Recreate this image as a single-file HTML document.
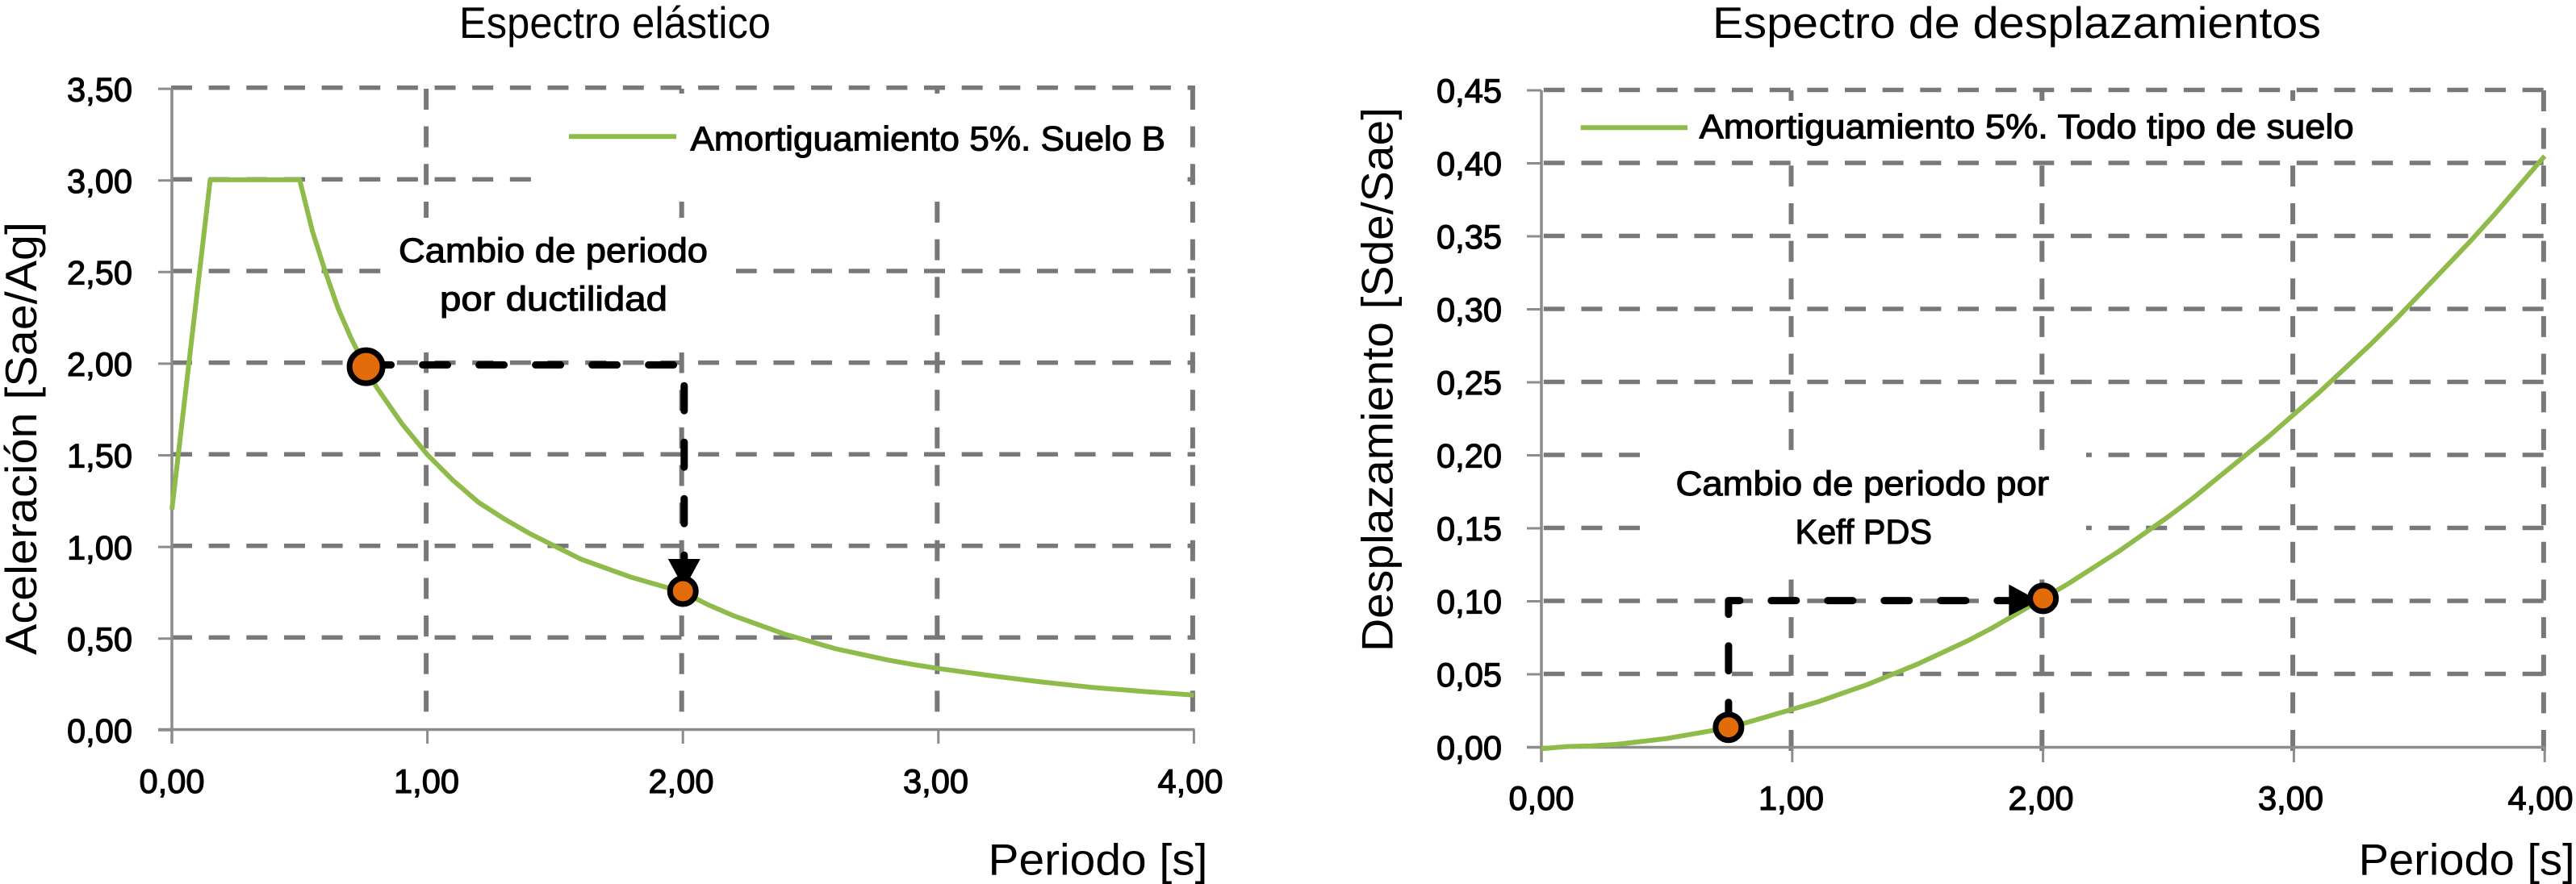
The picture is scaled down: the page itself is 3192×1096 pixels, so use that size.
<!DOCTYPE html>
<html lang="es">
<head>
<meta charset="utf-8">
<title>Espectro elástico y espectro de desplazamientos</title>
<style>
html,body{margin:0;padding:0;background:#fff;width:3192px;height:1096px;overflow:hidden}
svg{display:block}
text{font-family:"Liberation Sans",sans-serif;fill:#000}
.tick{font-size:42px;stroke:#000;stroke-width:1.2px}
.note{font-size:43px;stroke:#000;stroke-width:1.1px}
.big{font-size:55px}
</style>
</head>
<body>
<svg id="figure" xmlns="http://www.w3.org/2000/svg" width="3192" height="1096" viewBox="0 0 3192 1096">
  <rect x="0" y="0" width="3192" height="1096" fill="#fff"/>
  <g id="left-chart"></g>
  <g id="right-chart"></g>
</svg>
<script>
// ---- Shared axis data ----
const periodTickValues = [0, 1, 2, 3, 4];
const periodTickLabels = ["0,00", "1,00", "2,00", "3,00", "4,00"];

// ---- Elastic spectrum data ----
const elasticYTickValues = [0, 0.5, 1, 1.5, 2, 2.5, 3, 3.5];
const elasticYTickLabels = ["0,00", "0,50", "1,00", "1,50", "2,00", "2,50", "3,00", "3,50"];
const elasticPeriods = [0, 0.15, 0.5, 0.55, 0.6, 0.65, 0.7, 0.75, 0.8, 0.9, 1, 1.1, 1.2, 1.3, 1.4, 1.5, 1.6, 1.7, 1.8, 1.9, 2, 2.1, 2.2, 2.3, 2.4, 2.5, 2.6, 2.7, 2.8, 2.9, 3, 3.2, 3.4, 3.6, 3.8, 4];
const elasticValues = [1.2, 3, 3, 2.72, 2.5, 2.3, 2.14, 2, 1.87, 1.67, 1.5, 1.36, 1.24, 1.15, 1.07, 1, 0.93, 0.88, 0.83, 0.79, 0.75, 0.68, 0.62, 0.57, 0.52, 0.48, 0.44, 0.41, 0.38, 0.355, 0.333, 0.295, 0.26, 0.23, 0.208, 0.188];
const elasticMarkerPeriods = [0.76, 2];
const elasticMarkerValues = [1.98, 0.755];
const elasticArrowPeriods = [0.76, 2.005, 2.005];
const elasticArrowValues = [1.99, 1.99, 0.9];

// ---- Displacement spectrum data ----
const displacementYTickValues = [0, 0.05, 0.1, 0.15, 0.2, 0.25, 0.3, 0.35, 0.4, 0.45];
const displacementYTickLabels = ["0,00", "0,05", "0,10", "0,15", "0,20", "0,25", "0,30", "0,35", "0,40", "0,45"];
const displacementPeriods = [0, 0.1, 0.2, 0.3, 0.4, 0.5, 0.6, 0.7, 0.75, 0.8, 0.9, 1, 1.1, 1.2, 1.3, 1.4, 1.5, 1.6, 1.7, 1.8, 1.9, 2, 2.1, 2.2, 2.3, 2.4, 2.5, 2.6, 2.7, 2.8, 2.9, 3, 3.1, 3.2, 3.3, 3.4, 3.5, 3.6, 3.7, 3.8, 3.9, 4];
const displacementValues = [-0.001, 0.0005, 0.001, 0.002, 0.004, 0.006, 0.009, 0.012, 0.0142, 0.016, 0.021, 0.026, 0.031, 0.037, 0.043, 0.05, 0.057, 0.065, 0.073, 0.082, 0.092, 0.102, 0.112, 0.123, 0.134, 0.146, 0.158, 0.171, 0.185, 0.199, 0.213, 0.228, 0.243, 0.259, 0.275, 0.292, 0.31, 0.328, 0.346, 0.365, 0.385, 0.405];
const displacementMarkerPeriods = [0.746, 2];
const displacementMarkerValues = [0.0137, 0.102];
const displacementArrowPeriods = [0.746, 0.746, 1.88];
const displacementArrowValues = [0.0137, 0.1005, 0.1005];

const NS = "http://www.w3.org/2000/svg";
function make(parent, tag, attrs, txt) {
  const el = document.createElementNS(NS, tag);
  for (const k in attrs) el.setAttribute(k, attrs[k]);
  if (txt !== undefined) el.textContent = txt;
  parent.appendChild(el);
  return el;
}
function pts(xs, ys, sx, sy) {
  return xs.map((x, i) => sx(x).toFixed(1) + "," + sy(ys[i]).toFixed(1)).join(" ");
}

function drawChart(root, c) {
  const sx = c.x, sy = c.y;

  // grid
  c.yTicks.forEach(v => {
    if (v === 0) return;
    const g = make(root, "line", {x1: c.gridLeft, x2: c.gridRight, y1: sy(v) + c.gridDy, y2: sy(v) + c.gridDy, stroke: "#787878", "stroke-width": 5.5, "stroke-dasharray": "26 20.65"});
    
    
  });
  periodTickValues.forEach(v => {
    if (v === 0) return;
    const g = make(root, "line", {x1: sx(v) + c.gridDx, x2: sx(v) + c.gridDx, y1: c.gridTop, y2: c.gridBottom, stroke: "#787878", "stroke-width": 6, "stroke-dasharray": "26 20.65"});
    
    
  });

  // white boxes behind legend and annotation
  c.masks.forEach(m => {
    const r = make(root, "rect", {x: m[0], y: m[1], width: m[2], height: m[3], fill: "#fff"});
    
    
  });

  // axes
  const axisY = sy(0), axisX = sx(0);
  const ya = make(root, "line", {x1: axisX, x2: axisX, y1: c.gridTop, y2: c.tickBottom, stroke: "#8c8c8c", "stroke-width": 3.5});
  
  
  const xa = make(root, "line", {x1: c.tickLeft, x2: sx(4) + 1, y1: axisY, y2: axisY, stroke: "#8c8c8c", "stroke-width": 3.5});
  
  

  c.yTicks.forEach((v, i) => {
    const t = make(root, "line", {x1: c.tickLeft, x2: axisX, y1: sy(v) + c.tickDy, y2: sy(v) + c.tickDy, stroke: "#8c8c8c", "stroke-width": 3});
    
    
    const l = make(root, "text", {x: c.yLabelRight, y: sy(v) + c.yLabelDy, "text-anchor": "end", class: "tick", textLength: 81, lengthAdjust: "spacingAndGlyphs"}, c.yLabels[i]);
    
    
  });
  periodTickValues.forEach((v, i) => {
    const t = make(root, "line", {x1: sx(v), x2: sx(v), y1: axisY, y2: c.tickBottom, stroke: "#8c8c8c", "stroke-width": 3});
    
    
    const l = make(root, "text", {x: c.labelX(v), y: c.xLabelY, "text-anchor": "middle", class: "tick", textLength: 81, lengthAdjust: "spacingAndGlyphs"}, periodTickLabels[i]);
    
    
  });

  // titles & text
  const title = make(root, "text", {x: c.title[1], y: 47, class: "big", textLength: c.title[2], lengthAdjust: "spacingAndGlyphs"}, c.title[0]);
  
  
  const xt = make(root, "text", {x: c.xTitle[0], y: 1084.5, class: "big", textLength: c.xTitle[1], lengthAdjust: "spacingAndGlyphs"}, "Periodo [s]");
  
  
  const yt = make(root, "text", {transform: "translate(" + c.yTitle[1] + "," + c.yTitle[2] + ") rotate(-90)", x: 0, y: 0, class: "big", textLength: c.yTitle[3], lengthAdjust: "spacingAndGlyphs"}, c.yTitle[0]);
  
  

  // legend
  const ll = make(root, "line", {x1: c.legendLine[0], x2: c.legendLine[1], y1: c.legendLine[2], y2: c.legendLine[2], stroke: "#8fbb4a", "stroke-width": 6});
  
  
  const lt = make(root, "text", {x: c.legendText[1], y: c.legendText[2], class: "note", textLength: c.legendText[3], lengthAdjust: "spacingAndGlyphs"}, c.legendText[0]);
  
  

  // annotation text
  c.notes.forEach(n => {
    const t = make(root, "text", {x: n[1], y: n[2], class: "note", textLength: n[3], lengthAdjust: "spacingAndGlyphs"}, n[0]);
    
    
  });

  // series
  const line = make(root, "polyline", {points: pts(c.periods, c.values, sx, sy), fill: "none", stroke: "#8fbb4a", "stroke-width": 6, "stroke-linejoin": "round"});
  
  

  // arrow
  const arrow = make(root, "polyline", {points: pts(c.arrowX, c.arrowY, sx, sy), fill: "none", stroke: "#000", "stroke-width": 9, "stroke-linecap": "round", "stroke-linejoin": "round", "stroke-dasharray": "31 39", "stroke-dashoffset": c.arrowOffset});
  
  

  const n = c.arrowX.length - 1;
  const ax = sx(c.arrowX[n]), ay = sy(c.arrowY[n]);
  const head = c.headVertical
    ? [[ax - 20, ay - 7], [ax + 20, ay - 7], [ax, ay + 30]]
    : [[ax - 5, ay - 20], [ax - 5, ay + 19], [ax + 32, ay]];
  const h = make(root, "polygon", {points: head.map(p => p.join(",")).join(" "), fill: "#000"});
  
  

  // markers
  c.markerX.forEach((p, i) => {
    const m = make(root, "circle", {cx: sx(p), cy: sy(c.markerY[i]), r: c.markerR[i], fill: "#e36c0a", stroke: "#000", "stroke-width": 7});
    
    
  });
}

drawChart(document.getElementById("left-chart"), {
  x: v => 213 + v * 316.6,
  y: v => 904.5 - v * 227.2,
  labelX: v => 213 + v * 315.5,
  yTicks: elasticYTickValues, yLabels: elasticYTickLabels,
  periods: elasticPeriods, values: elasticValues,
  markerX: elasticMarkerPeriods, markerY: elasticMarkerValues, markerR: [20.5, 16],
  arrowX: elasticArrowPeriods, arrowY: elasticArrowValues, arrowOffset: 0, headVertical: true,
  gridLeft: 212, gridRight: 1481, gridTop: 110, gridBottom: 883, gridDx: -1.5, gridDy: -0.5,
  tickLeft: 196, tickBottom: 922, tickDy: 0.8,
  yLabelRight: 164, yLabelDy: 16, xLabelY: 983,
  masks: [[659, 116, 811, 134], [472, 270, 440, 167]],
  title: ["Espectro elástico", 569, 386],
  xTitle: [1224.5, 272],
  yTitle: ["Aceleración [Sae/Ag]", 45, 812, 537],
  legendLine: [705, 838, 169.3],
  legendText: ["Amortiguamiento 5%. Suelo B", 855.5, 186.7, 588.5],
  notes: [["Cambio de periodo", 494, 325, 383], ["por ductilidad", 545, 385, 282]]
});

drawChart(document.getElementById("right-chart"), {
  x: v => 1910 + v * 310.8,
  y: v => 926.5 - v * 1810,
  labelX: v => 1910 + v * 309.5,
  yTicks: displacementYTickValues, yLabels: displacementYTickLabels,
  periods: displacementPeriods, values: displacementValues,
  markerX: displacementMarkerPeriods, markerY: displacementMarkerValues, markerR: [16, 16],
  arrowX: displacementArrowPeriods, arrowY: displacementArrowValues, arrowOffset: 0, headVertical: false,
  gridLeft: 1912.8, gridRight: 3153, gridTop: 112, gridBottom: 931, gridDx: -1.3, gridDy: -0.5,
  tickLeft: 1892, tickBottom: 945, tickDy: 0,
  yLabelRight: 1861, yLabelDy: 15, xLabelY: 1004,
  masks: [[1940, 125, 1195, 73], [2032, 558, 553, 160]],
  title: ["Espectro de desplazamientos", 2122, 754],
  xTitle: [2922.6, 268],
  yTitle: ["Desplazamiento [Sde/Sae]", 1725.5, 808, 675],
  legendLine: [1958.7, 2091, 158.3],
  legendText: ["Amortiguamiento 5%. Todo tipo de suelo", 2105.6, 171.3, 811],
  notes: [["Cambio de periodo por", 2076.5, 614, 462.5], ["Keff PDS", 2224.5, 674, 169.5]]
});
</script>
</body>
</html>
